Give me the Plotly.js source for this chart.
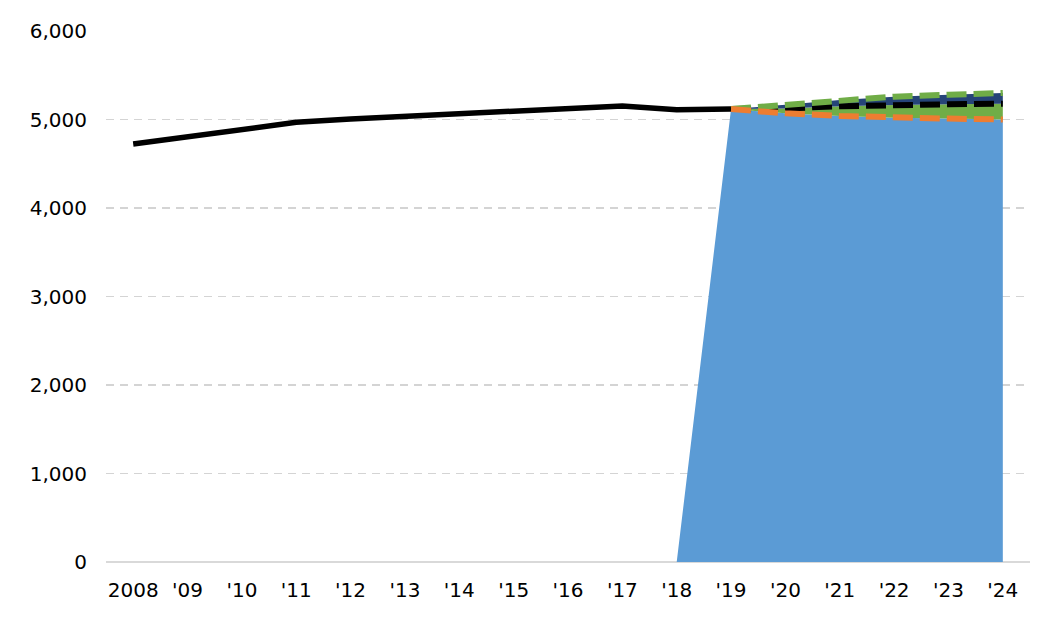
<!DOCTYPE html>
<html>
<head>
<meta charset="utf-8">
<script src="https://cdn.plot.ly/plotly-3.0.1.min.js"></script>
<style>
  html, body { margin: 0; padding: 0; background: #fff; }
  #chart { width: 1055px; height: 629px; }
</style>
</head>
<body>
<div id="chart"></div>
<script>
// categories on the x axis
var years = ["2008", "'09", "'10", "'11", "'12", "'13", "'14", "'15", "'16",
             "'17", "'18", "'19", "'20", "'21", "'22", "'23", "'24"];

// actuals 2008 - '19
var actualYears = years.slice(0, 12);
var actual = [4723, 4800, 4890, 4968, 5006, 5036, 5070, 5098, 5122, 5153, 5110, 5118];

// forecast '19 - '24
var fcYears = years.slice(11);
var low  = [5118, 5070, 5040, 5020, 5010, 5000];
var mid  = [5118, 5125, 5150, 5165, 5172, 5178];
var high = [5118, 5168, 5220, 5258, 5280, 5300];

// shaded band rises from zero in '18
var bandYears = years.slice(10);

var BLUE = "#5B9BD5", GREEN = "#70AD47", ORANGE = "#ED7D31", NAVY = "#264478";
var DASH = "20px,7px";

var traces = [
    { x: bandYears, y: [0].concat(low), mode: "none", fill: "tozeroy",
      fillcolor: BLUE, hoverinfo: "skip" },
    { x: bandYears, y: [0].concat(mid), mode: "none", fill: "tonexty",
      fillcolor: GREEN, hoverinfo: "skip" },
    { x: bandYears, y: [0].concat(high), mode: "none", fill: "tonexty",
      fillcolor: NAVY, hoverinfo: "skip" },
    { x: actualYears, y: actual, mode: "lines",
      line: { color: "#000", width: 5.5 } },
    { x: fcYears, y: mid, mode: "lines",
      line: { color: "#000", width: 6, dash: DASH } },
    { x: fcYears, y: high, mode: "lines",
      line: { color: GREEN, width: 6, dash: DASH } },
    { x: fcYears, y: low, mode: "lines",
      line: { color: ORANGE, width: 6, dash: DASH } }
];

var layout = {
    width: 1055,
    height: 629,
    margin: { l: 106, r: 25, t: 31, b: 67 },
    paper_bgcolor: "#fff",
    plot_bgcolor: "#fff",
    showlegend: false,
    font: { family: "DejaVu Sans", size: 20, color: "#000" },
    xaxis: {
        type: "category",
        categoryorder: "array",
        categoryarray: years,
        range: [-0.5, 16.5],
        showgrid: false,
        zeroline: false,
        showline: false,
        ticks: "",
        ticklabelstandoff: 14,
        tickfont: { family: "DejaVu Sans", size: 20, color: "#000" }
    },
    yaxis: {
        range: [0, 6000],
        dtick: 1000,
        tickformat: ",d",
        showgrid: true,
        gridcolor: "#D4D4D4",
        gridwidth: 1.5,
        griddash: "8px,6px",
        zeroline: true,
        zerolinecolor: "#D9D9D9",
        zerolinewidth: 2.5,
        showline: false,
        ticks: "",
        ticklabelstandoff: 18,
        tickfont: { family: "DejaVu Sans", size: 20, color: "#000" }
    }
};

Plotly.newPlot("chart", traces, layout, { displayModeBar: false, staticPlot: true });
</script>
</body>
</html>
